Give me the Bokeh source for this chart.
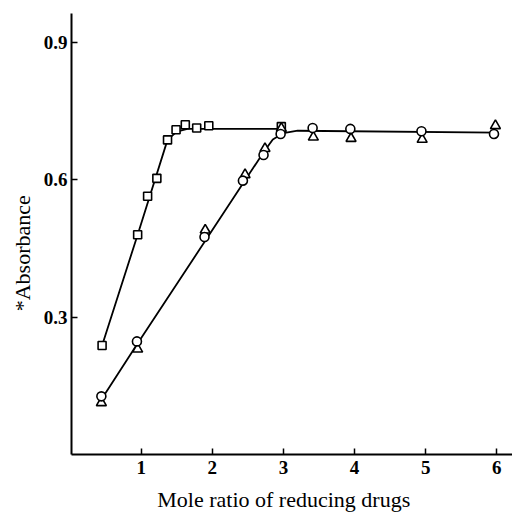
from bokeh.plotting import figure
from bokeh.models import Range1d, FixedTicker
from bokeh.embed import file_html
from bokeh.resources import INLINE

# Series 1 (squares)
sq_x = [0.45, 0.95, 1.09, 1.22, 1.37, 1.49, 1.62, 1.78, 1.95, 2.97]
sq_y = [0.238, 0.48, 0.564, 0.603, 0.687, 0.709, 0.72, 0.713, 0.718, 0.716]
# Series 2 (circles)
ci_x = [0.44, 0.94, 1.89, 2.43, 2.72, 2.96, 3.41, 3.94, 4.94, 5.96]
ci_y = [0.127, 0.247, 0.475, 0.598, 0.654, 0.70, 0.713, 0.711, 0.706, 0.70]
# Series 3 (triangles)
tr_x = [0.44, 0.95, 1.90, 2.46, 2.74, 2.97, 3.42, 3.95, 4.95, 5.98]
tr_y = [0.113, 0.23, 0.49, 0.611, 0.668, 0.712, 0.693, 0.69, 0.688, 0.718]
# Drawn curves
sq_line_x = [0.45, 0.95, 1.37, 1.5, 1.65, 3.0]
sq_line_y = [0.238, 0.48, 0.687, 0.705, 0.711, 0.711]
ct_line_x = [0.44, 0.94, 2.72, 2.85, 3.0, 3.2, 6.0]
ct_line_y = [0.12, 0.24, 0.66, 0.688, 0.702, 0.707, 0.703]

x_ticks = [1, 2, 3, 4, 5, 6]
y_ticks = [0.3, 0.6, 0.9]

p = figure(width=512, height=514, output_backend="svg", toolbar_location=None,
           x_range=Range1d(0.02, 6.22), y_range=Range1d(0, 0.963),
           min_border_left=71, min_border_right=0, min_border_top=13, min_border_bottom=54)
p.outline_line_color = None
p.grid.visible = False
p.background_fill_color = "white"
p.border_fill_color = "white"

font = "Liberation Serif"
for ax in (p.xaxis, p.yaxis):
    ax.major_tick_in = 6
    ax.major_tick_out = 0
    ax.minor_tick_line_color = None
    ax.axis_line_width = 2
    ax.major_tick_line_width = 1.5
    ax.axis_line_color = "black"
    ax.major_tick_line_color = "black"
    ax.major_label_text_font = font
    ax.major_label_text_font_size = "19px"
    ax.major_label_text_font_style = "bold"
    ax.major_label_text_color = "black"
    ax.axis_label_text_font = font
    ax.axis_label_text_font_size = "22px"
    ax.axis_label_text_font_style = "normal"
    ax.axis_label_text_color = "black"

p.xaxis.ticker = FixedTicker(ticks=x_ticks)
p.yaxis.ticker = FixedTicker(ticks=y_ticks)
p.xaxis.axis_label = "Mole ratio of reducing drugs" + "\u00a0" * 3
p.yaxis.axis_label = "*Absorbance" + "\u00a0" * 7
p.xaxis.major_label_standoff = 6
p.yaxis.major_label_standoff = 4
p.xaxis.axis_label_standoff = 10
p.yaxis.axis_label_standoff = 6

p.line(sq_line_x, sq_line_y, line_color="black", line_width=1.8)
p.line(ct_line_x, ct_line_y, line_color="black", line_width=1.8)

p.scatter(sq_x, sq_y, marker="square", size=8, fill_color="white",
          line_color="black", line_width=1.6)
p.scatter(tr_x, tr_y, marker="triangle", size=10, fill_color="white",
          line_color="black", line_width=1.6)
p.scatter(ci_x, ci_y, marker="circle", size=9, fill_color="white",
          line_color="black", line_width=1.6)

open("out.html", "w").write(file_html(p, INLINE))
